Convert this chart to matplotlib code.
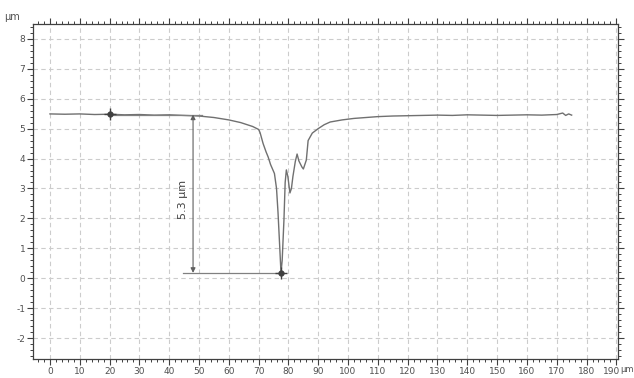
import matplotlib.pyplot as plt
import matplotlib.transforms as mtransforms
from matplotlib.ticker import MultipleLocator

plt.rcParams['axes.unicode_minus'] = False

# profile data (x in um, height in um)
x_prof = [0, 5, 10, 15, 20, 25, 30, 35, 40, 45, 50, 55, 60, 64, 68, 70, 70.5,
          71.5, 72.5, 73.2, 74, 75.3, 76, 76.5, 77, 77.5, 77.9, 78.5, 78.9, 79.3,
          79.8, 80.5, 81, 81.5, 82.3, 82.9, 83.5, 84.5, 85, 86, 86.6, 88, 90, 92,
          94, 98, 102, 106, 110, 115, 120, 125, 130, 135, 140, 145, 150, 155, 160,
          165, 170, 172, 173, 174, 175]
y_prof = [5.49, 5.48, 5.49, 5.47, 5.48, 5.46, 5.47, 5.45, 5.46, 5.44, 5.42, 5.37, 5.29, 5.2, 5.07, 4.97, 4.86,
          4.5, 4.22, 4.05, 3.8, 3.5, 3.0, 2.2, 1.2, 0.18, 0.6, 1.97, 3.2, 3.62,
          3.4, 2.85, 3.0, 3.4, 3.9, 4.15, 3.92, 3.72, 3.65, 3.95, 4.6, 4.85, 5.0, 5.13,
          5.22, 5.29, 5.34, 5.37, 5.4, 5.42, 5.43, 5.44, 5.45, 5.44, 5.46, 5.45, 5.44, 5.45, 5.46,
          5.45, 5.47, 5.52, 5.44, 5.49, 5.45]

# measurement markers
m1 = (20, 5.5)
m2 = (77.5, 0.18)
depth_label = '5.3 µm'

x_ticks = list(range(0, 200, 10))
y_ticks = list(range(-2, 9))

fig = plt.figure(figsize=(6.34, 3.78), dpi=100)
ax = fig.add_axes([0.052, 0.05, 0.923, 0.887])

ax.plot(x_prof, y_prof, color='#707070', lw=1.0)

# measurement lines
ax.plot([m1[0], 51], [m1[1] - 0.03, m1[1] - 0.03], color='#808080', lw=0.9)
ax.plot([44.6, m2[0]], [m2[1], m2[1]], color='#808080', lw=0.9)
ax.annotate('', xy=(48, m1[1] - 0.03), xytext=(48, m2[1]),
            arrowprops=dict(arrowstyle='<|-|>', color='#606060', lw=0.8,
                            mutation_scale=7, shrinkA=0, shrinkB=0))
ax.text(44.6, 2.65, depth_label, rotation=90, ha='center', va='center',
        fontsize=8, color='#404040')
for m in (m1, m2):
    ax.plot(m[0], m[1], marker='+', ms=9, mew=1.0, color='#404040')
    ax.plot(m[0], m[1], marker='o', ms=3.5, color='#404040')

ax.set_xlim(-5.7, 190.6)
ax.set_ylim(-2.7, 8.5)
ax.set_xticks(x_ticks)
ax.set_yticks(y_ticks)
ax.xaxis.set_minor_locator(MultipleLocator(2))
ax.yaxis.set_minor_locator(MultipleLocator(0.2))
ax.grid(True, which='major', color='#cccccc', ls=(0, (4, 3)), lw=0.8)
ax.tick_params(which='both', direction='out', colors='#404040', labelcolor='#505050',
               labelsize=6.5, top=True, right=True, labeltop=False, labelright=False)
ax.tick_params(which='major', length=4, width=0.8, pad=1.5)
ax.tick_params(which='minor', length=2.5, width=0.7)
for s in ax.spines.values():
    s.set_color('#404040')
    s.set_linewidth(0.9)

# nudge the last x label left so the unit fits beside it
last = ax.get_xticklabels()[-1]
last.set_transform(last.get_transform() + mtransforms.ScaledTranslation(-5 / 100, 0, fig.dpi_scale_trans))

fig.text(12 / 634, 1 - 17 / 378, 'µm', fontsize=7, color='#505050', ha='center', va='center')
fig.text(620.5 / 634, 1 - 369 / 378, 'µm', fontsize=6, color='#505050', ha='left', va='center')

fig.savefig('out.png', dpi=100)
